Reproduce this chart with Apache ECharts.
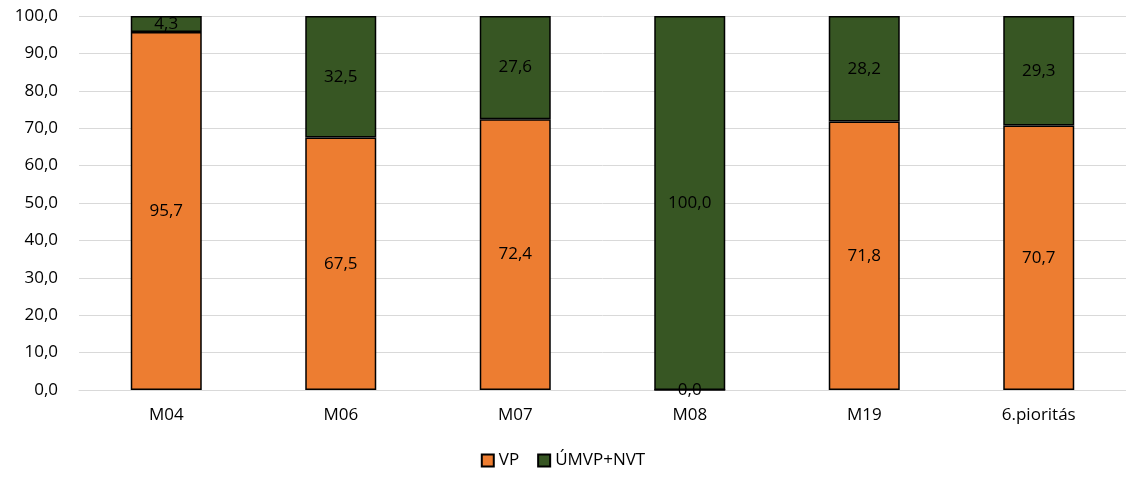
<!DOCTYPE html>
<html>
<head>
<meta charset="utf-8">
<script src="https://cdn.jsdelivr.net/npm/echarts@6/dist/echarts.min.js"></script>
<style>
  html, body { margin: 0; padding: 0; background: #fff; }
  #chart { width: 1126px; height: 480px; }
</style>
</head>
<body>
<div id="chart"></div>
<script>
// Categories and shares (%) per measure
const categories = ['M04', 'M06', 'M07', 'M08', 'M19', '6.pioritás'];
const vpValues = [95.7, 67.5, 72.4, 0.0, 71.8, 70.7];
const umvpValues = [4.3, 32.5, 27.6, 100.0, 28.2, 29.3];
const seriesNames = ['VP', 'ÚMVP+NVT'];

const font = '"Open Sans", sans-serif';
const fs = 17;
const fmt = v => v.toFixed(1).replace('.', ',');

const chart = echarts.init(document.getElementById('chart'));
chart.setOption({
  animation: false,
  textStyle: { fontFamily: font },
  grid: { left: 79, right: 0, top: 16, bottom: 90 },
  legend: {
    bottom: 6,
    itemWidth: 12,
    itemHeight: 12,
    itemGap: 18,
    textStyle: { fontSize: fs, color: '#000', fontFamily: font },
    data: seriesNames.map(n => ({ name: n, icon: 'rect' }))
  },
  xAxis: {
    type: 'category',
    data: categories,
    axisLine: { show: true, lineStyle: { color: '#d9d9d9' } },
    axisTick: { show: false },
    axisLabel: { fontSize: fs, color: '#000', margin: 17, fontFamily: font }
  },
  yAxis: {
    type: 'value',
    min: 0,
    max: 100,
    interval: 10,
    axisLabel: { fontSize: fs, color: '#000', margin: 21, formatter: fmt, fontFamily: font },
    splitLine: { lineStyle: { color: '#d9d9d9', width: 1 } },
    axisLine: { show: false },
    axisTick: { show: false }
  },
  series: [
    {
      name: seriesNames[0],
      type: 'bar',
      stack: 'total',
      data: vpValues,
      barWidth: 71,
      itemStyle: { color: '#ED7D31', borderColor: '#000', borderWidth: 1.5 },
      label: {
        show: true, position: 'inside', fontSize: fs, color: '#000', fontFamily: font,
        formatter: p => fmt(p.value)
      }
    },
    {
      name: seriesNames[1],
      type: 'bar',
      stack: 'total',
      data: umvpValues,
      barWidth: 71,
      itemStyle: { color: '#375623', borderColor: '#000', borderWidth: 1.5 },
      label: {
        show: true, position: 'inside', fontSize: fs, color: '#000', fontFamily: font,
        formatter: p => fmt(p.value)
      }
    }
  ]
});
</script>
</body>
</html>
